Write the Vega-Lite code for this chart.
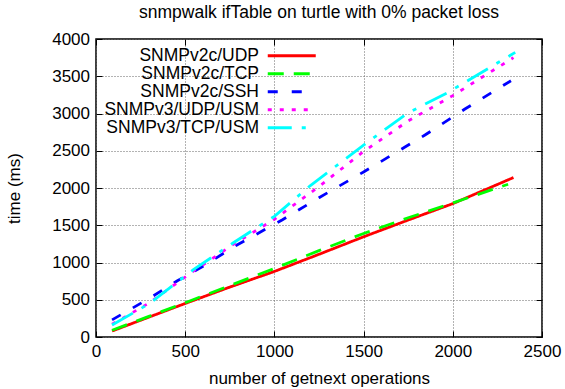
{
  "$schema": "https://vega.github.io/schema/vega-lite/v6.json",
  "width": 446,
  "height": 298,
  "autosize": {"type": "none"},
  "padding": {"left": 96, "top": 39, "right": 23, "bottom": 52},
  "background": "white",
  "title": {
    "text": "snmpwalk ifTable on turtle with 0% packet loss",
    "font": "Liberation Sans",
    "fontSize": 17.5,
    "fontWeight": "normal",
    "color": "black",
    "anchor": "middle",
    "frame": "group",
    "offset": 9
  },
  "config": {
    "view": {"stroke": "black", "strokeWidth": 1.5},
    "axis": {
      "labelFont": "Liberation Sans",
      "titleFont": "Liberation Sans",
      "labelFontSize": 17,
      "titleFontSize": 17,
      "titleFontWeight": "normal",
      "labelColor": "black",
      "titleColor": "black",
      "domain": false,
      "tickColor": "black",
      "tickSize": -6,
      "tickWidth": 1,
      "grid": true,
      "gridColor": "#666666",
      "gridDash": [1, 2],
      "gridWidth": 1,
      "format": "d"
    },
    "legend": {
      "labelFont": "Liberation Sans",
      "labelFontSize": 17.5,
      "labelColor": "black"
    }
  },
  "data": {
    "values": [
      {"series": "SNMPv2c/UDP", "ops": 90, "ms": 80},
      {"series": "SNMPv2c/UDP", "ops": 300, "ms": 270},
      {"series": "SNMPv2c/UDP", "ops": 500, "ms": 450},
      {"series": "SNMPv2c/UDP", "ops": 750, "ms": 670},
      {"series": "SNMPv2c/UDP", "ops": 1000, "ms": 880},
      {"series": "SNMPv2c/UDP", "ops": 1250, "ms": 1110},
      {"series": "SNMPv2c/UDP", "ops": 1500, "ms": 1345},
      {"series": "SNMPv2c/UDP", "ops": 1750, "ms": 1570},
      {"series": "SNMPv2c/UDP", "ops": 2000, "ms": 1790},
      {"series": "SNMPv2c/UDP", "ops": 2340, "ms": 2140},
      {"series": "SNMPv2c/TCP", "ops": 90, "ms": 90},
      {"series": "SNMPv2c/TCP", "ops": 300, "ms": 280},
      {"series": "SNMPv2c/TCP", "ops": 500, "ms": 460},
      {"series": "SNMPv2c/TCP", "ops": 750, "ms": 690},
      {"series": "SNMPv2c/TCP", "ops": 1000, "ms": 920},
      {"series": "SNMPv2c/TCP", "ops": 1250, "ms": 1160},
      {"series": "SNMPv2c/TCP", "ops": 1500, "ms": 1390},
      {"series": "SNMPv2c/TCP", "ops": 1750, "ms": 1600},
      {"series": "SNMPv2c/TCP", "ops": 2000, "ms": 1800},
      {"series": "SNMPv2c/TCP", "ops": 2310, "ms": 2050},
      {"series": "SNMPv2c/SSH", "ops": 90, "ms": 230},
      {"series": "SNMPv2c/SSH", "ops": 300, "ms": 520},
      {"series": "SNMPv2c/SSH", "ops": 454, "ms": 752},
      {"series": "SNMPv2c/SSH", "ops": 600, "ms": 950},
      {"series": "SNMPv2c/SSH", "ops": 790, "ms": 1235},
      {"series": "SNMPv2c/SSH", "ops": 1043, "ms": 1570},
      {"series": "SNMPv2c/SSH", "ops": 1250, "ms": 1870},
      {"series": "SNMPv2c/SSH", "ops": 1500, "ms": 2215},
      {"series": "SNMPv2c/SSH", "ops": 1732, "ms": 2550},
      {"series": "SNMPv2c/SSH", "ops": 1844, "ms": 2711},
      {"series": "SNMPv2c/SSH", "ops": 2068, "ms": 3060},
      {"series": "SNMPv2c/SSH", "ops": 2326, "ms": 3440},
      {"series": "SNMPv3/UDP/USM", "ops": 90, "ms": 170},
      {"series": "SNMPv3/UDP/USM", "ops": 300, "ms": 460},
      {"series": "SNMPv3/UDP/USM", "ops": 544, "ms": 880},
      {"series": "SNMPv3/UDP/USM", "ops": 768, "ms": 1240},
      {"series": "SNMPv3/UDP/USM", "ops": 1000, "ms": 1580},
      {"series": "SNMPv3/UDP/USM", "ops": 1250, "ms": 2020},
      {"series": "SNMPv3/UDP/USM", "ops": 1500, "ms": 2490},
      {"series": "SNMPv3/UDP/USM", "ops": 1750, "ms": 2900},
      {"series": "SNMPv3/UDP/USM", "ops": 2000, "ms": 3240},
      {"series": "SNMPv3/UDP/USM", "ops": 2340, "ms": 3750},
      {"series": "SNMPv3/TCP/USM", "ops": 90, "ms": 160},
      {"series": "SNMPv3/TCP/USM", "ops": 300, "ms": 450},
      {"series": "SNMPv3/TCP/USM", "ops": 544, "ms": 900},
      {"series": "SNMPv3/TCP/USM", "ops": 768, "ms": 1262},
      {"series": "SNMPv3/TCP/USM", "ops": 1000, "ms": 1620},
      {"series": "SNMPv3/TCP/USM", "ops": 1200, "ms": 2030},
      {"series": "SNMPv3/TCP/USM", "ops": 1500, "ms": 2577},
      {"series": "SNMPv3/TCP/USM", "ops": 1750, "ms": 3010},
      {"series": "SNMPv3/TCP/USM", "ops": 1967, "ms": 3275},
      {"series": "SNMPv3/TCP/USM", "ops": 2350, "ms": 3820}
    ]
  },
  "layer": [
    {
      "mark": {"type": "line", "strokeWidth": 2.8},
      "encoding": {
        "x": {
          "field": "ops", "type": "quantitative",
          "scale": {"domain": [0, 2500], "nice": false, "zero": false},
          "axis": {"values": [0, 500, 1000, 1500, 2000, 2500], "title": "number of getnext operations", "labelPadding": 12, "titlePadding": 11, "labelFlush": false, "grid": true}
        },
        "y": {
          "field": "ms", "type": "quantitative",
          "scale": {"domain": [0, 4000], "nice": false},
          "axis": {"values": [0, 500, 1000, 1500, 2000, 2500, 3000, 3500, 4000], "title": "time (ms)", "labelPadding": 12.5, "titlePadding": 28, "labelFlush": false, "grid": true}
        },
        "color": {
          "field": "series", "type": "nominal",
          "scale": {
            "domain": ["SNMPv2c/UDP", "SNMPv2c/TCP", "SNMPv2c/SSH", "SNMPv3/UDP/USM", "SNMPv3/TCP/USM"],
            "range": ["#ff0000", "#00ff00", "#0000ff", "#ff00ff", "#00ffff"]
          },
          "legend": {
            "title": null,
            "orient": "none",
            "legendX": 187,
            "legendY": 8,
            "padding": 0,
            "symbolType": "M-4,0H4",
            "symbolSize": 144,
            "symbolStrokeWidth": 2.8,
            "symbolFillColor": "transparent",
            "labelAlign": "right",
            "labelOffset": -41.5,
            "rowPadding": -2.2
          }
        },
        "strokeDash": {
          "field": "series", "type": "nominal",
          "scale": {
            "domain": ["SNMPv2c/UDP", "SNMPv2c/TCP", "SNMPv2c/SSH", "SNMPv3/UDP/USM", "SNMPv3/TCP/USM"],
            "range": [[1, 0], [16, 10], [10, 14], [4, 8], [24, 10, 4, 10]]
          },
          "legend": null
        }
      }
    },
    {
      "mark": {"type": "point", "opacity": 0},
      "encoding": {
        "x": {"field": "ops", "type": "quantitative", "axis": {"orient": "top", "labels": false, "grid": false, "title": null, "values": [0, 500, 1000, 1500, 2000, 2500]}},
        "y": {"field": "ms", "type": "quantitative", "axis": {"orient": "right", "labels": false, "grid": false, "title": null, "values": [0, 500, 1000, 1500, 2000, 2500, 3000, 3500, 4000]}}
      }
    }
  ],
  "resolve": {"axis": {"x": "independent", "y": "independent"}}
}
